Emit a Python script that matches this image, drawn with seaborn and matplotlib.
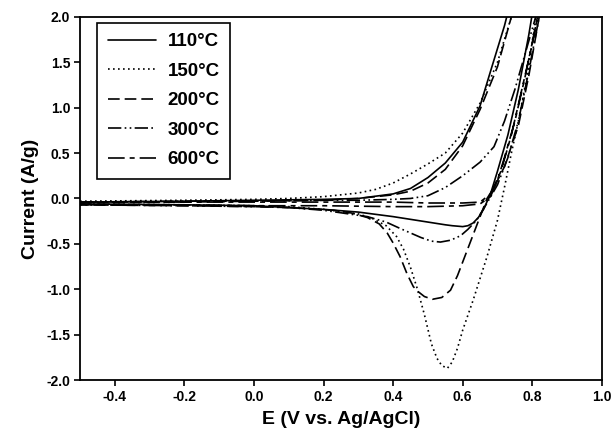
import numpy as np
import pandas as pd
import matplotlib
matplotlib.use("Agg")
import matplotlib.pyplot as plt
import seaborn as sns

# ---- data ----
labels = ["110°C", "150°C", "200°C", "300°C", "600°C"]

# 110 °C  (forward then reverse)
e_110 = [-0.5, -0.2, 0.0, 0.2, 0.3, 0.4, 0.45, 0.5, 0.55, 0.6, 0.65, 0.68, 0.72, 0.76,
         0.82, 0.79, 0.76, 0.73, 0.70, 0.68, 0.66, 0.645, 0.63, 0.615, 0.6, 0.57, 0.55, 0.5, 0.45, 0.4, 0.3, 0.2, 0.1, 0.0, -0.2, -0.5]
i_110 = [-0.04, -0.03, -0.02, -0.01, 0.0, 0.05, 0.11, 0.23, 0.39, 0.62, 1.02, 1.4, 1.9, 2.5,
         2.5, 1.8, 1.2, 0.7, 0.3, 0.05, -0.12, -0.21, -0.27, -0.3, -0.31, -0.3, -0.29, -0.26, -0.23, -0.2, -0.15, -0.12, -0.1, -0.08, -0.07, -0.06]

# 150 °C
e_150 = [-0.5, -0.2, 0.0, 0.1, 0.2, 0.3, 0.35, 0.4, 0.45, 0.5, 0.55, 0.6, 0.65, 0.7, 0.74, 0.78,
         0.84, 0.81, 0.79, 0.76, 0.74, 0.72, 0.70, 0.67, 0.63, 0.6, 0.585, 0.57, 0.556, 0.54, 0.526, 0.51, 0.49, 0.47, 0.45, 0.43, 0.41, 0.38, 0.34, 0.3, 0.2, 0.1, 0.0, -0.2, -0.5]
i_150 = [-0.03, -0.02, -0.01, 0.0, 0.02, 0.06, 0.1, 0.17, 0.27, 0.38, 0.5, 0.72, 1.05, 1.5, 2.0, 2.5,
         2.6, 2.0, 1.45, 0.85, 0.5, 0.12, -0.24, -0.64, -1.12, -1.45, -1.65, -1.8, -1.87, -1.84, -1.76, -1.6, -1.28, -1.0, -0.76, -0.56, -0.42, -0.3, -0.22, -0.17, -0.12, -0.09, -0.08, -0.07, -0.06]

# 200 °C
e_200 = [-0.5, -0.2, 0.0, 0.2, 0.3, 0.4, 0.45, 0.5, 0.55, 0.6, 0.65, 0.7, 0.74, 0.78,
         0.85, 0.82, 0.79, 0.76, 0.72, 0.69, 0.67, 0.65, 0.613, 0.585, 0.565, 0.54, 0.513, 0.49, 0.47, 0.458, 0.44, 0.42, 0.4, 0.383, 0.36, 0.326, 0.28, 0.23, 0.1, 0.0, -0.2, -0.5]
i_200 = [-0.05, -0.04, -0.03, -0.02, 0.0, 0.04, 0.08, 0.17, 0.32, 0.58, 0.98, 1.45, 2.0, 2.6,
         2.6, 2.0, 1.35, 0.8, 0.35, 0.12, 0.0, -0.2, -0.57, -0.85, -1.01, -1.09, -1.11, -1.08, -1.02, -0.97, -0.83, -0.64, -0.49, -0.38, -0.28, -0.21, -0.16, -0.13, -0.1, -0.09, -0.08, -0.07]

# 300 °C
e_300 = [-0.5, -0.2, 0.0, 0.2, 0.3, 0.4, 0.45, 0.5, 0.55, 0.6, 0.65, 0.69, 0.72, 0.75, 0.78, 0.81, 0.84,
         0.85, 0.82, 0.79, 0.76, 0.73, 0.70, 0.67, 0.64, 0.615, 0.594, 0.565, 0.536, 0.51, 0.48, 0.45, 0.42, 0.38, 0.326, 0.2, 0.1, 0.0, -0.2, -0.5]
i_300 = [-0.04, -0.03, -0.03, -0.02, -0.02, -0.01, 0.0, 0.03, 0.12, 0.25, 0.4, 0.57, 0.85, 1.2, 1.6, 2.0, 2.5,
         2.6, 2.0, 1.4, 0.85, 0.45, 0.15, -0.05, -0.24, -0.34, -0.41, -0.46, -0.48, -0.47, -0.43, -0.38, -0.33, -0.26, -0.2, -0.13, -0.1, -0.09, -0.08, -0.07]

# 600 °C
e_600 = [-0.5, -0.2, 0.0, 0.2, 0.4, 0.5, 0.6, 0.65, 0.68, 0.71, 0.74, 0.77, 0.80, 0.83,
         0.84, 0.81, 0.78, 0.75, 0.72, 0.70, 0.68, 0.65, 0.6, 0.5, 0.4, 0.2, 0.0, -0.2, -0.5]
i_600 = [-0.04, -0.04, -0.04, -0.04, -0.04, -0.05, -0.05, -0.04, 0.05, 0.3, 0.7, 1.2, 1.7, 2.3,
         2.5, 1.9, 1.35, 0.85, 0.45, 0.2, 0.02, -0.06, -0.08, -0.09, -0.09, -0.08, -0.08, -0.07, -0.07]

x_ticks = [-0.4, -0.2, 0.0, 0.2, 0.4, 0.6, 0.8, 1.0]
y_ticks = [-2.0, -1.5, -1.0, -0.5, 0.0, 0.5, 1.0, 1.5, 2.0]

series = [(e_110, i_110), (e_150, i_150), (e_200, i_200), (e_300, i_300), (e_600, i_600)]
styles = [
    dict(linestyle="-"),
    dict(linestyle=(0, (1, 2))),
    dict(linestyle=(0, (7, 3))),
    dict(linestyle=(0, (8, 2, 1, 2, 1, 2))),
    dict(linestyle=(0, (10, 3, 3, 3))),
]

sns.set_theme(style="ticks")
plt.rcParams["font.family"] = ["Liberation Sans", "DejaVu Sans"]
plt.rcParams["text.color"] = "black"
plt.rcParams["axes.labelcolor"] = "black"
plt.rcParams["xtick.color"] = "black"
plt.rcParams["ytick.color"] = "black"

fig = plt.figure(figsize=(6.11, 4.42), dpi=100)
ax = fig.add_axes([0.131, 0.140, 0.854, 0.822])

for (e, i), lab, st in zip(series, labels, styles):
    df = pd.DataFrame({"E": e, "I": i})
    sns.lineplot(data=df, x="E", y="I", ax=ax, sort=False, estimator=None,
                 color="black", linewidth=1.2, label=lab, **st)

ax.set_xlim(-0.5, 1.0)
ax.set_ylim(-2.0, 2.0)
ax.set_xticks(x_ticks)
ax.set_yticks(y_ticks)
ax.set_xticklabels([f"{v:.1f}" for v in x_ticks], fontweight="bold", fontsize=10)
ax.set_yticklabels([f"{v:.1f}" for v in y_ticks], fontweight="bold", fontsize=10)
ax.tick_params(direction="out", length=4, width=1.2, colors="black", pad=3)
ax.set_xlabel("E (V vs. Ag/AgCl)", fontweight="bold", fontsize=14, labelpad=5)
ax.set_ylabel("Current (A/g)", fontweight="bold", fontsize=14, labelpad=5)
for s in ax.spines.values():
    s.set_color("black")
    s.set_linewidth(1.3)

leg = ax.legend(loc="upper left", bbox_to_anchor=(0.033, 0.983), borderaxespad=0,
                frameon=True, fancybox=False, edgecolor="black", framealpha=1,
                prop={"weight": "bold", "size": 13.5}, handlelength=2.6,
                labelspacing=0.66, borderpad=0.55, handletextpad=0.6)
leg.get_frame().set_linewidth(1.2)
for t in leg.get_texts():
    t.set_color("black")

fig.savefig("out.png", dpi=100)
